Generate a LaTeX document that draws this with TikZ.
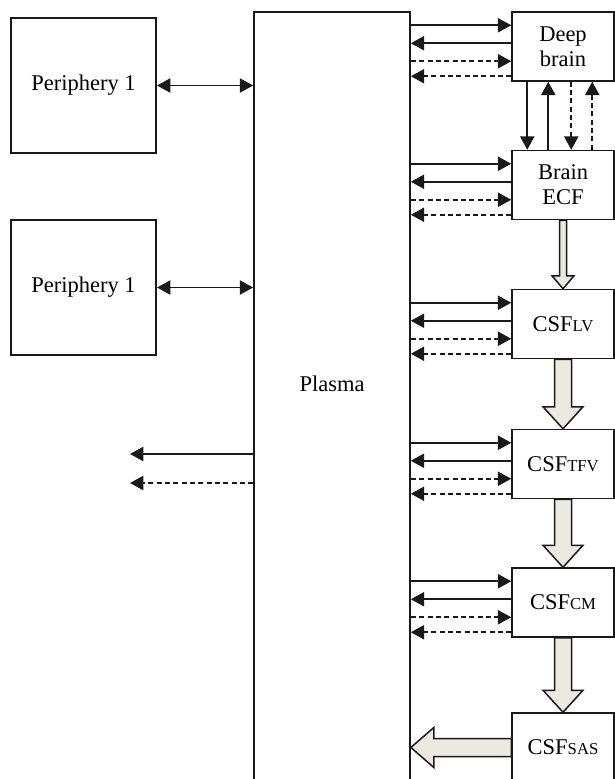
\documentclass[tikz,border=0pt]{standalone}
\usepackage{fontspec}
\setmainfont{Liberation Serif}
\usetikzlibrary{arrows.meta,calc}
\definecolor{cream}{RGB}{236,234,224}
\newcommand{\sub}[1]{{\fontsize{10}{12}\selectfont #1}}

\begin{document}
\begin{tikzpicture}[x=0.6pt,y=-0.6pt,>={Triangle[length=8pt,width=8.5pt]},
font=\fontsize{13.5}{15}\selectfont,
box/.style={draw=black!90,line width=0.9pt,align=center,inner sep=2pt},
peri/.style={box,line width=1.2pt,minimum width=87pt,minimum height=81pt},
comp/.style={box,minimum width=61.2pt,minimum height=41.4pt},
flow/.style={->,line width=1pt,draw=black!90},
dflow/.style={flow,densely dashed},
fat/.style={draw=black!90,fill=cream,line width=0.9pt,line join=miter}]
\useasboundingbox (0,0) rectangle (614,779);
\node[peri] (p1) at (83.5,85.5) {Periphery 1};
\node[peri] (p2) at (83.5,287.5) {Periphery 1};
\node[box,line width=1pt,minimum width=93.6pt,minimum height=468pt] (plasma) at (332,402) {};
\node (plasmalabel) at (332,384) {Plasma};
\node[comp] (db) at (563,46.5) {Deep\\brain};
\node[comp] (ecf) at (563,185) {Brain\\ECF};
\node[comp] (lv) at (563,324) {CSF\sub{LV}};
\node[comp] (tfv) at (563,464) {CSF\sub{TFV}};
\node[comp] (cm) at (563,602.5) {CSF\sub{CM}};
\node[comp] (sas) at (563,747.5) {CSF\sub{SAS}};
% periphery exchange
\draw[flow,<->] (p1.east) -- (p1.east -| plasma.west);
\draw[flow,<->] (p2.east) -- (p2.east -| plasma.west);
% plasma outflow
\coordinate (out1) at (130,454);
\coordinate (out2) at (130,483);
\draw[flow] (out1 -| plasma.west) -- (out1);
\draw[dflow] (out2 -| plasma.west) -- (out2);
% plasma <-> brain and csf
\foreach \bx in {db,ecf,lv,tfv,cm}{
\coordinate (\bx1) at ($(\bx.north west)+(0,14)$);
\coordinate (\bx2) at ($(\bx.north west)+(0,32)$);
\coordinate (\bx3) at ($(\bx.north west)+(0,50)$);
\coordinate (\bx4) at ($(\bx.north west)+(0,65)$);
\draw[flow] (\bx1 -| plasma.east) -- (\bx1); \draw[flow] (\bx2) -- (\bx2 -| plasma.east);
\draw[dflow] (\bx3 -| plasma.east) -- (\bx3); \draw[dflow] (\bx4) -- (\bx4 -| plasma.east);
}
% deep brain <-> brain ecf
\coordinate (v1) at ($(db.south west)+(16,0)$);
\coordinate (v2) at ($(db.south west)+(37,0)$);
\coordinate (v3) at ($(db.south west)+(60,0)$);
\coordinate (v4) at ($(db.south west)+(81,0)$);
\draw[flow] (v1) -- (v1 |- ecf.north); \draw[flow] (v2 |- ecf.north) -- (v2);
\draw[dflow] (v3) -- (v3 |- ecf.north); \draw[dflow] (v4 |- ecf.north) -- (v4);
% csf bulk flow
\draw[fat] ($(ecf.south)+(-3.5,0)$) -- ($(lv.north)+(-3.5,-13)$) -- ($(lv.north)+(-11,-13)$) -- (lv.north)
 -- ($(lv.north)+(11,-13)$) -- ($(lv.north)+(3.5,-13)$) -- ($(ecf.south)+(3.5,0)$) -- cycle;
\draw[fat] ($(lv.south)+(-8.5,0)$) -- ($(tfv.north)+(-8.5,-22)$) -- ($(tfv.north)+(-20,-22)$) -- (tfv.north)
 -- ($(tfv.north)+(20,-22)$) -- ($(tfv.north)+(8.5,-22)$) -- ($(lv.south)+(8.5,0)$) -- cycle;
\draw[fat] ($(tfv.south)+(-8.5,0)$) -- ($(cm.north)+(-8.5,-22)$) -- ($(cm.north)+(-20,-22)$) -- (cm.north)
 -- ($(cm.north)+(20,-22)$) -- ($(cm.north)+(8.5,-22)$) -- ($(tfv.south)+(8.5,0)$) -- cycle;
\draw[fat] ($(cm.south)+(-8.5,0)$) -- ($(sas.north)+(-8.5,-22)$) -- ($(sas.north)+(-20,-22)$) -- (sas.north)
 -- ($(sas.north)+(20,-22)$) -- ($(sas.north)+(8.5,-22)$) -- ($(cm.south)+(8.5,0)$) -- cycle;
\draw[fat] ($(sas.west)+(0,-9)$) -- ($(sas.west -| plasma.east)+(23,-9)$) -- ($(sas.west -| plasma.east)+(23,-20)$)
 -- (sas.west -| plasma.east) -- ($(sas.west -| plasma.east)+(23,20)$) -- ($(sas.west -| plasma.east)+(23,9)$)
 -- ($(sas.west)+(0,9)$) -- cycle;
\end{tikzpicture}
\end{document}
